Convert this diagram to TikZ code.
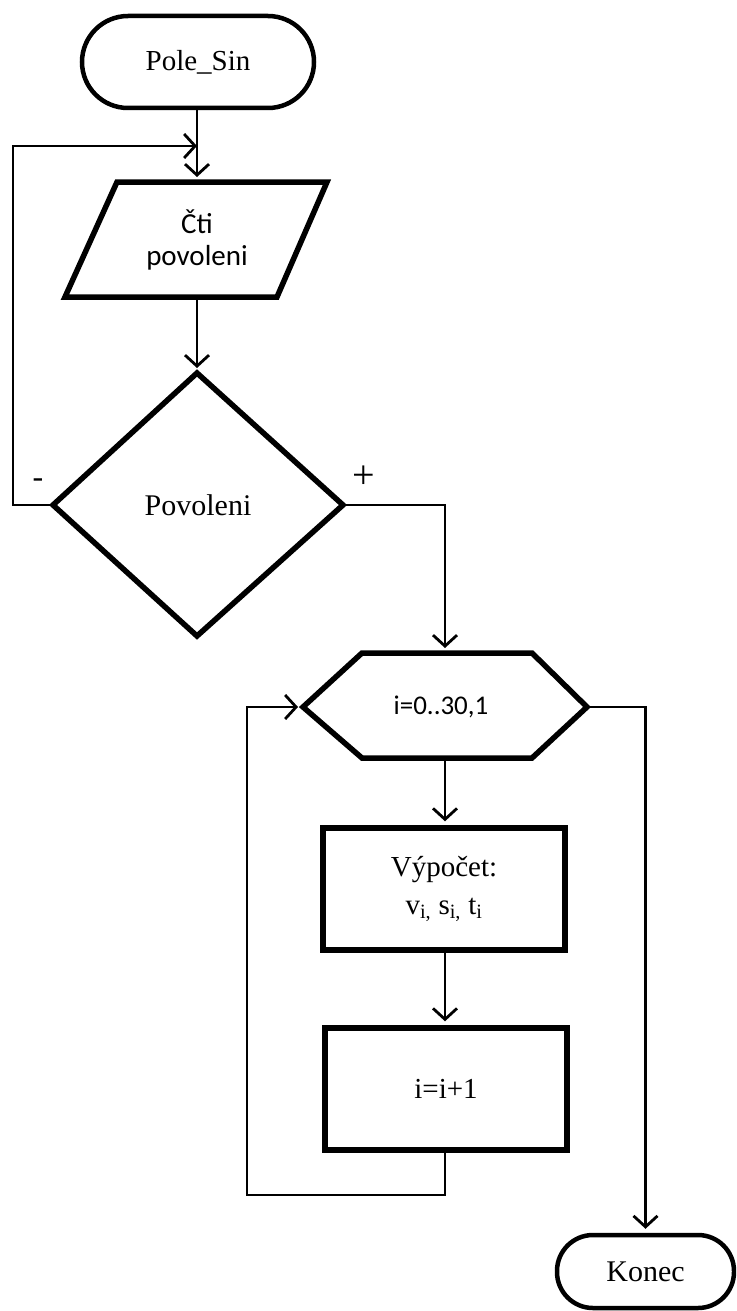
\documentclass[tikz,border=0pt]{standalone}
\usepackage{fontspec}
\setmainfont{Liberation Serif}
\newfontfamily\sansf{Carlito}
\usetikzlibrary{arrows.meta}
\begin{document}
\begin{tikzpicture}[x=1pt,y=-1pt,
  shp/.style={draw=black, line width=5.5pt, line join=miter, fill=white},
  term/.style={draw=black, line width=4.5pt, rounded corners=#1, inner sep=0pt},
  boxn/.style={draw=black, line width=5.5pt, minimum width=242pt, minimum height=122pt, inner sep=0pt, align=center},
  con/.style={draw=black, line width=2.8pt},
  arr/.style={con, -{Straight Barb[length=11pt,width=24pt,line width=2.8pt]}},
  sertxt/.style={font=\fontsize{29}{38}\selectfont, align=center},
  santxt/.style={font=\sansf\fontsize{29}{32}\selectfont, align=center}]
\useasboundingbox (0,0) rectangle (736,1311);
\clip (0,0) rectangle (736,1311);
\fill[white] (0,0) rectangle (736,1311);

% shapes drawn as polygons
\draw[shp] (117,182) -- (327,182) -- (277,297) -- (65,297) -- cycle;
\draw[shp] (197,373) -- (343,505) -- (197,636) -- (53,505) -- cycle;
\draw[shp] (303,707) -- (362,653) -- (532,653) -- (587,707) -- (532,758) -- (362,758) -- cycle;

% named anchor points of the polygons
\coordinate (readN) at (197,177);
\coordinate (readS) at (197,297);
\coordinate (decN) at (197,368);
\coordinate (decW) at (53,505);
\coordinate (decE) at (343,505);
\coordinate (hexN) at (445,648);
\coordinate (hexW) at (298,707);
\coordinate (hexE) at (587,707);
\coordinate (hexS) at (445,758);

% nodes
\node[term=46pt, minimum width=232pt, minimum height=92pt, sertxt] (start) at (198,62) {Pole\_Sin};
\node[santxt] (read) at (197,240) {Čti\\povoleni};
\node[sertxt, font=\fontsize{30}{38}\selectfont] (dec) at (198,505) {Povoleni};
\node[santxt, font=\sansf\fontsize{27}{30}\selectfont] (loop) at (441,707) {i=0..30,1};
\node[boxn, sertxt] (calc) at (444,889) {Výpočet:\\v\textsubscript{i,} s\textsubscript{i,} t\textsubscript{i}};
\node[boxn, sertxt] (inc) at (446,1089) {i=i+1};
\node[term=36pt, minimum width=177pt, minimum height=73pt, sertxt, font=\fontsize{30}{38}\selectfont] (end) at (645.5,1271.5) {Konec};
\node[sertxt, font=\fontsize{32}{38}\selectfont] (minus) at (38,483) {-};
\node[sertxt, font=\fontsize{40}{40}\selectfont] (plus) at (364,477) {+};

% connectors
\draw[arr] (start.south -| readN) -- (readN);
\draw[arr] (decW) -- (13,505) |- (197,146);
\draw[arr] (readS) -- (decN);
\draw[arr] (decE) -| (hexN);
\draw[arr] (hexS) -- ([yshift=4pt]calc.north -| hexS);
\draw[arr] (calc.south -| hexS) -- ([yshift=4pt]inc.north -| hexS);
\draw[arr] (inc.south -| hexS) -- (445,1195) -- (247,1195) |- (hexW);
\draw[arr] (hexE) -| ([yshift=4pt]end.north);
\end{tikzpicture}
\end{document}
